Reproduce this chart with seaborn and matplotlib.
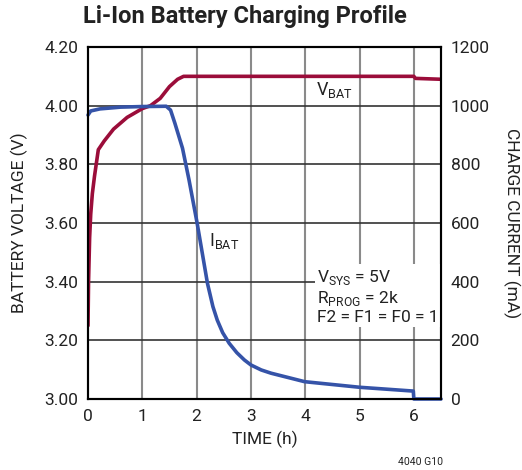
import numpy as np
import pandas as pd
import seaborn as sns
import matplotlib.pyplot as plt

sns.set_style("white")
plt.rcParams['font.family'] = ['Roboto', 'DejaVu Sans']
plt.rcParams['mathtext.fontset'] = 'custom'
plt.rcParams['mathtext.rm'] = 'Roboto'

# battery voltage (V) vs time (h)
vbatTime = [0, 0.01, 0.03, 0.05, 0.08, 0.12, 0.19, 0.3, 0.47, 0.72, 1.0, 1.15,
            1.33, 1.5, 1.65, 1.76, 3.0, 4.5, 6.0, 6.03, 6.5]
vbat = [3.25, 3.40, 3.55, 3.63, 3.70, 3.76, 3.85, 3.88, 3.92, 3.96, 3.99, 4.00,
        4.025, 4.065, 4.09, 4.10, 4.10, 4.10, 4.10, 4.093, 4.09]

# charge current (mA) vs time (h)
ibatTime = [0, 0.05, 0.22, 0.6, 1.0, 1.44, 1.52, 1.6, 1.74, 1.86, 2.01, 2.2, 2.3,
            2.38, 2.48, 2.6, 2.74, 2.88, 3.0, 3.19, 3.37, 3.99, 5.0, 5.99, 6.0, 6.5]
ibat = [968, 982, 989, 995, 997, 998, 985, 940, 855, 747, 599, 394, 315,
        269, 226, 190, 158, 133, 116, 99, 88, 59, 40, 27, 0, 0]

xTicks = [0, 1, 2, 3, 4, 5, 6]
vTicks = [3.0, 3.2, 3.4, 3.6, 3.8, 4.0, 4.2]
iTicks = [0, 200, 400, 600, 800, 1000, 1200]

red = '#9b0d3a'
blue = '#3553a8'
ink = '#222222'

dfV = pd.DataFrame({'t': vbatTime, 'v': vbat})
dfI = pd.DataFrame({'t': ibatTime, 'i': ibat})

fig = plt.figure(figsize=(5.22, 4.70), dpi=100)
ax = fig.add_axes([88 / 522, 71 / 470, 353 / 522, 352 / 470])
ax2 = ax.twinx()

sns.lineplot(data=dfV, x='t', y='v', ax=ax, color=red, lw=2.6,
             estimator=None, sort=False)
sns.lineplot(data=dfI, x='t', y='i', ax=ax2, color=blue, lw=2.6,
             estimator=None, sort=False, clip_on=False)

ax.set_xlim(0, 6.5)
ax.set_ylim(3.0, 4.2)
ax2.set_ylim(0, 1200)
ax.set_xticks(xTicks)
ax.set_yticks(vTicks)
ax.set_yticklabels([f'{v:.2f}' for v in vTicks])
ax2.set_yticks(iTicks)

# grid: vertical gray, horizontal dark
for x in xTicks[1:]:
    ax.axvline(x, color='#8a8a8a', lw=1.5, zorder=0)
for y in vTicks[1:-1]:
    ax.axhline(y, color='#333333', lw=1.2, zorder=0)

for a in (ax, ax2):
    a.tick_params(length=0, labelsize=12.5, pad=7, colors=ink)
    for s in a.spines.values():
        s.set_color('black')
        s.set_linewidth(1.5)

ax.set_xlabel('TIME (h)', fontsize=12.5, color=ink, labelpad=5)
ax.set_ylabel('BATTERY VOLTAGE (V)', fontsize=12.5, color=ink, labelpad=12)
ax2.set_ylabel('CHARGE CURRENT (mA)', fontsize=12.5, color=ink,
               rotation=270, labelpad=22)

box = dict(facecolor='white', edgecolor='none', pad=1.5)
ax.text(4.2, 4.035, r'V$_{\mathrm{BAT}}$', fontsize=13, color=ink,
        bbox=box, zorder=1)
ax2.text(2.22, 540, r'I$_{\mathrm{BAT}}$', fontsize=13, color=ink,
         bbox=box, va='center', zorder=1)
ax2.text(4.22, 350, 'V$_{\\mathrm{SYS}}$ = 5V\nR$_{\\mathrm{PROG}}$ = 2k\nF2 = F1 = F0 = 1',
         fontsize=12.5, color=ink, va='center', linespacing=1.15,
         bbox=box, zorder=1)

fig.text(245 / 522, 1 - 17 / 470, 'Li-Ion Battery Charging Profile',
         fontsize=17, fontweight='bold', ha='center', va='center', color=ink)
fig.text(421 / 522, 1 - 462 / 470, '4040 G10', fontsize=7.5, ha='center',
         va='center', color=ink)

fig.savefig('out.png', dpi=100)
